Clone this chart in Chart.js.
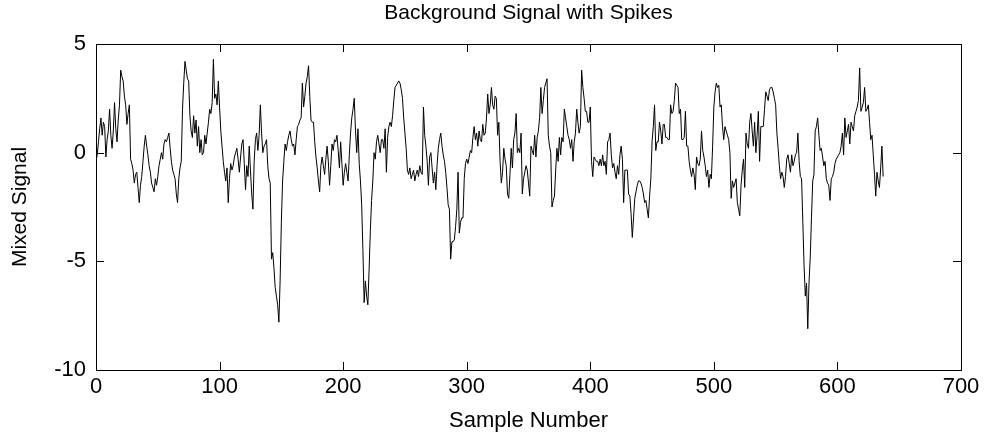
<!DOCTYPE html>
<html>
<head>
<meta charset="utf-8">
<title>Background Signal with Spikes</title>
<script src="https://cdn.jsdelivr.net/npm/chart.js@4.4.1/dist/chart.umd.min.js"></script>
<style>
  html, body { margin: 0; padding: 0; background: #fff; }
  #wrap { width: 987px; height: 444px; position: relative; }
</style>
</head>
<body>
<div id="wrap"><canvas id="signal-chart"></canvas></div>
<script>
// mixed signal, one value per sample
const mixedSignal = [
  -0.4, -0.1, 0.5, 1.1, 1.6, 0.8, 1.4, 1.2, -0.2, 0.6,
  1.0, 2.0, 0.8, 0.2, 1.0, 2.3, 1.1, 0.5, 1.5, 2.2,
  3.8, 3.5, 3.3, 2.6, 2.2, 1.3, 1.8, 2.2, -0.3, -0.5,
  -0.8, -1.4, -1.0, -0.9, -1.6, -2.3, -1.5, -1.1, -0.4, 0.3,
  0.8, 0.3, -0.1, -0.6, -0.9, -1.4, -1.6, -1.8, -1.2, -1.5,
  -1.1, -0.6, -0.3, 0.0, -0.3, 0.4, 0.6, 0.5, 0.7, 0.9,
  0.2, -0.4, -0.8, -1.0, -1.2, -1.9, -2.3, -1.2, -0.7, -0.4,
  2.0, 3.2, 4.2, 3.8, 3.4, 3.3, 1.7, 1.0, 0.7, 1.7,
  0.9, 1.5, 0.3, 1.2, 0.0, 0.6, -0.1, 0.0, 0.8, 0.4,
  0.9, 1.4, 2.0, 1.8, 2.3, 4.3, 2.5, 2.7, 2.2, 3.3,
  2.1, 1.0, 0.3, -0.4, -0.9, -1.3, -0.7, -2.3, -1.2, -0.5,
  -0.8, -0.6, -0.2, 0.0, 0.2, -0.3, -0.9, -0.2, 0.4, 0.6,
  -0.5, -1.7, -0.6, -1.1, 0.3, -0.8, -1.9, -2.6, -0.4, 0.6,
  0.9, 0.1, 0.8, 2.2, 0.9, 0.0, 0.3, 0.4, 0.6, -0.6,
  -1.2, -1.4, -4.9, -4.6, -5.3, -6.2, -6.6, -7.0, -7.8, -5.9,
  -3.2, -1.3, -0.4, 0.4, 0.1, 0.5, 0.8, 1.0, 0.6, 0.3,
  0.4, -0.1, 0.6, 1.2, 1.3, 1.5, 1.6, 3.2, 2.1, 2.6,
  3.2, 3.5, 4.0, 2.6, 1.5, 1.4, 1.4, 0.5, -0.2, -0.7,
  -1.3, -1.8, -0.6, -0.2, -0.6, -1.0, -0.3, 0.3, -0.4, -1.5,
  -0.6, 0.4, 0.1, 0.6, 0.5, 0.8, 0.1, -0.7, 0.5, -0.5,
  -1.5, -0.9, -0.5, -0.9, -1.3, -0.1, 0.9, 1.6, 2.0, 2.5,
  1.0, 0.0, 1.1, -0.5, -1.3, -2.4, -4.5, -6.9, -5.9, -6.6,
  -7.0, -5.4, -3.6, -2.2, -1.3, 0.0, -0.3, 0.5, 0.8, 0.4,
  0.0, 0.6, 0.6, 0.2, 1.1, -0.9, 0.7, 1.2, 1.4, 1.2,
  1.7, 2.4, 3.0, 3.1, 3.2, 3.3, 3.2, 2.9, 2.5, 1.6,
  0.9, 0.2, -0.8, -1.0, -0.7, -1.2, -1.0, -0.8, -1.3, -1.0,
  -0.8, -1.1, -0.6, -0.9, -1.0, 2.1, 0.8, 0.3, -0.4, -1.5,
  -0.2, 0.0, -0.7, -1.4, -0.9, -1.7, -0.6, 0.2, 0.6, 0.9,
  0.3, -0.1, -0.4, -0.9, -1.6, -2.4, -2.6, -4.9, -4.1, -4.1,
  -4.0, -3.4, -2.6, -0.9, -3.7, -3.2, -3.0, -3.0, -1.2, -0.5,
  -0.3, -0.5, -0.2, 0.1, 0.0, 0.7, 1.2, 0.6, 0.9, 0.3,
  1.0, 0.6, 0.5, 1.3, 0.8, 0.9, 1.6, 2.7, 1.8, 2.2,
  3.0, 2.2, 2.0, 2.6, 2.5, 0.8, 1.4, -0.4, -1.4, -0.9,
  0.2, -0.3, -0.6, -1.9, -2.1, -1.0, 0.2, -0.7, 0.6, 0.9,
  1.8, 0.0, 0.2, 0.0, 0.9, -1.9, -1.2, -0.9, -0.6, -0.8,
  -1.4, -2.0, 0.3, 0.1, -0.1, 0.8, -0.2, 0.7, 1.0, 1.6,
  3.0, 1.8, 2.4, 3.0, 3.2, 3.4, 0.8, 0.3, 0.0, -2.5,
  -2.2, -2.0, -0.8, 0.2, -0.4, 0.7, -0.1, 0.7, 0.5, 2.0,
  1.6, 1.2, 0.8, 0.6, 0.2, 0.6, -0.4, 0.5, 0.9, 2.0,
  1.4, 0.9, 1.2, 3.8, 3.0, 2.5, 1.9, 1.9, 1.4, 1.4,
  2.1, -0.4, -1.1, -0.2, -0.3, -0.4, -0.4, -0.6, -0.3, -0.6,
  -0.1, -0.6, -0.4, -1.0, 0.5, 0.6, 0.9, -0.1, -0.7, -0.5,
  -0.9, -1.2, -0.6, -1.0, -0.1, 0.3, -0.3, -2.3, -0.8, -0.8,
  -0.8, -1.9, -2.0, -2.8, -3.9, -3.0, -2.1, -1.8, -1.5, -1.3,
  -1.3, -1.4, -1.6, -1.9, -2.3, -2.2, -2.6, -3.0, -2.0, -1.2,
  0.5, 1.2, 2.2, 0.1, 0.5, 0.5, 1.4, 1.0, 0.4, 1.3,
  1.3, 0.7, 0.7, 0.6, 0.6, 2.2, 1.8, 1.9, 2.4, 3.2,
  3.1, 3.0, 1.8, 2.0, 0.6, 0.6, 0.7, 1.9, 0.3, 0.3,
  -0.4, -0.8, -1.1, -0.7, -1.0, -1.7, -0.2, -0.5, -0.6, -0.3,
  1.0, 0.1, -0.2, -0.6, -1.1, -0.8, -1.6, -1.0, -1.2, 0.3,
  2.1, 2.8, 3.2, 3.0, 3.1, 2.1, 2.2, 1.2, 0.6, 1.2,
  1.0, 0.8, 0.6, 0.0, -2.1, -1.3, -1.6, -1.4, -1.2, -2.3,
  -2.6, -2.9, -1.5, -0.8, -0.3, -1.6, 0.9, 0.4, 0.2, 1.4,
  1.8, 1.0, 0.3, 1.4, 0.0, 0.8, 1.9, -0.4, 1.2, 1.2,
  1.2, 2.0, 2.8, 2.6, 2.4, 2.9, 3.0, 3.0, 2.8, 2.5,
  2.2, 0.9, 0.2, -0.6, -1.2, -0.9, -1.1, -1.6, -1.1, -0.3,
  -0.1, -0.5, -0.9, -0.1, -0.6, -0.4, -0.1, 0.0, 0.9, -0.4,
  -1.1, -1.2, -3.2, -5.2, -6.6, -6.0, -8.1, -6.0, -4.8, -3.0,
  -1.3, -1.0, 1.0, 1.2, 1.6, 0.8, 0.1, 0.2, -0.2, -0.6,
  -0.4, -1.2, -1.4, -1.5, -2.2, -1.2, -1.1, -0.9, -0.5, -0.3,
  -0.2, -0.1, 0.0, 0.3, 0.9, -0.1, 1.6, 0.7, 1.0, 1.3,
  0.4, 1.4, 1.2, 1.0, 1.7, 1.9, 2.1, 2.4, 3.9, 1.9,
  2.1, 2.3, 3.0, 1.9, 2.0, 2.2, 1.4, 0.6, 0.8, -0.1,
  -1.0, -2.0, -0.9, -1.3, -1.6, -0.7, 0.3, -1.1
];

const xTicks = [0, 100, 200, 300, 400, 500, 600, 700];
const yTicks = [-10, -5, 0, 5];
const chartTitle = 'Background Signal with Spikes';

const sampleNumbers = mixedSignal.map((v, i) => i);
const points = mixedSignal.map((v, i) => ({ x: sampleNumbers[i], y: v }));

const fontFamily = "'Liberation Sans', Arial, Helvetica, sans-serif";

// matlab style box with inward ticks on all four sides, title over the axes
const boxTicks = {
    id: 'boxTicks',
    afterDraw(chart) {
        const { ctx, chartArea: { left, right, top, bottom }, scales: { x, y } } = chart;
        const len = 8;
        ctx.save();
        ctx.strokeStyle = '#000';
        ctx.lineWidth = 1;
        ctx.strokeRect(Math.round(left) + 0.5, Math.round(top) + 0.5,
            Math.round(right - left), Math.round(bottom - top));
        ctx.beginPath();
        x.ticks.forEach(t => {
            const px = Math.round(x.getPixelForValue(t.value)) + 0.5;
            ctx.moveTo(px, bottom);
            ctx.lineTo(px, bottom - len);
            ctx.moveTo(px, top);
            ctx.lineTo(px, top + len);
        });
        y.ticks.forEach(t => {
            const py = Math.round(y.getPixelForValue(t.value)) + 0.5;
            ctx.moveTo(left, py);
            ctx.lineTo(left + len, py);
            ctx.moveTo(right, py);
            ctx.lineTo(right - len, py);
        });
        ctx.stroke();

        ctx.fillStyle = '#000';
        ctx.font = '21px ' + fontFamily;
        ctx.textAlign = 'center';
        ctx.textBaseline = 'middle';
        ctx.fillText(chartTitle, (left + right) / 2, 13);
        ctx.restore();
    }
};

new Chart(document.getElementById('signal-chart'), {
    type: 'line',
    data: {
        datasets: [{
            label: 'Mixed Signal',
            data: points,
            borderColor: '#000',
            borderWidth: 1,
            pointRadius: 0,
            tension: 0,
            fill: false,
        }],
    },
    options: {
        responsive: true,
        maintainAspectRatio: false,
        animation: false,
        layout: { padding: { left: 0, right: 26, top: 44, bottom: 0 } },
        plugins: {
            legend: { display: false },
            tooltip: { enabled: false },
            title: { display: false },
        },
        scales: {
            x: {
                type: 'linear',
                min: 0,
                max: 700,
                afterBuildTicks: scale => { scale.ticks = xTicks.map(v => ({ value: v })); },
                afterFit: scale => { scale.height = 74; },
                grid: { display: false, drawTicks: false },
                border: { display: false },
                ticks: {
                    color: '#000',
                    padding: 4,
                    maxRotation: 0,
                    font: { family: fontFamily, size: 22 },
                },
                title: {
                    display: true,
                    text: 'Sample Number',
                    color: '#000',
                    font: { family: fontFamily, size: 22, lineHeight: 1.2 },
                    padding: { top: 0, bottom: 10 },
                },
            },
            y: {
                min: -10,
                max: 5,
                afterBuildTicks: scale => { scale.ticks = yTicks.map(v => ({ value: v })); },
                afterFit: scale => { scale.width = 96; },
                grid: { display: false, drawTicks: false },
                border: { display: false },
                ticks: {
                    color: '#000',
                    padding: 10,
                    font: { family: fontFamily, size: 22 },
                },
                title: {
                    display: true,
                    text: 'Mixed Signal',
                    color: '#000',
                    font: { family: fontFamily, size: 21, lineHeight: 1.2 },
                    padding: { top: 8, bottom: 0 },
                },
            },
        },
    },
    plugins: [boxTicks],
});
</script>
</body>
</html>
